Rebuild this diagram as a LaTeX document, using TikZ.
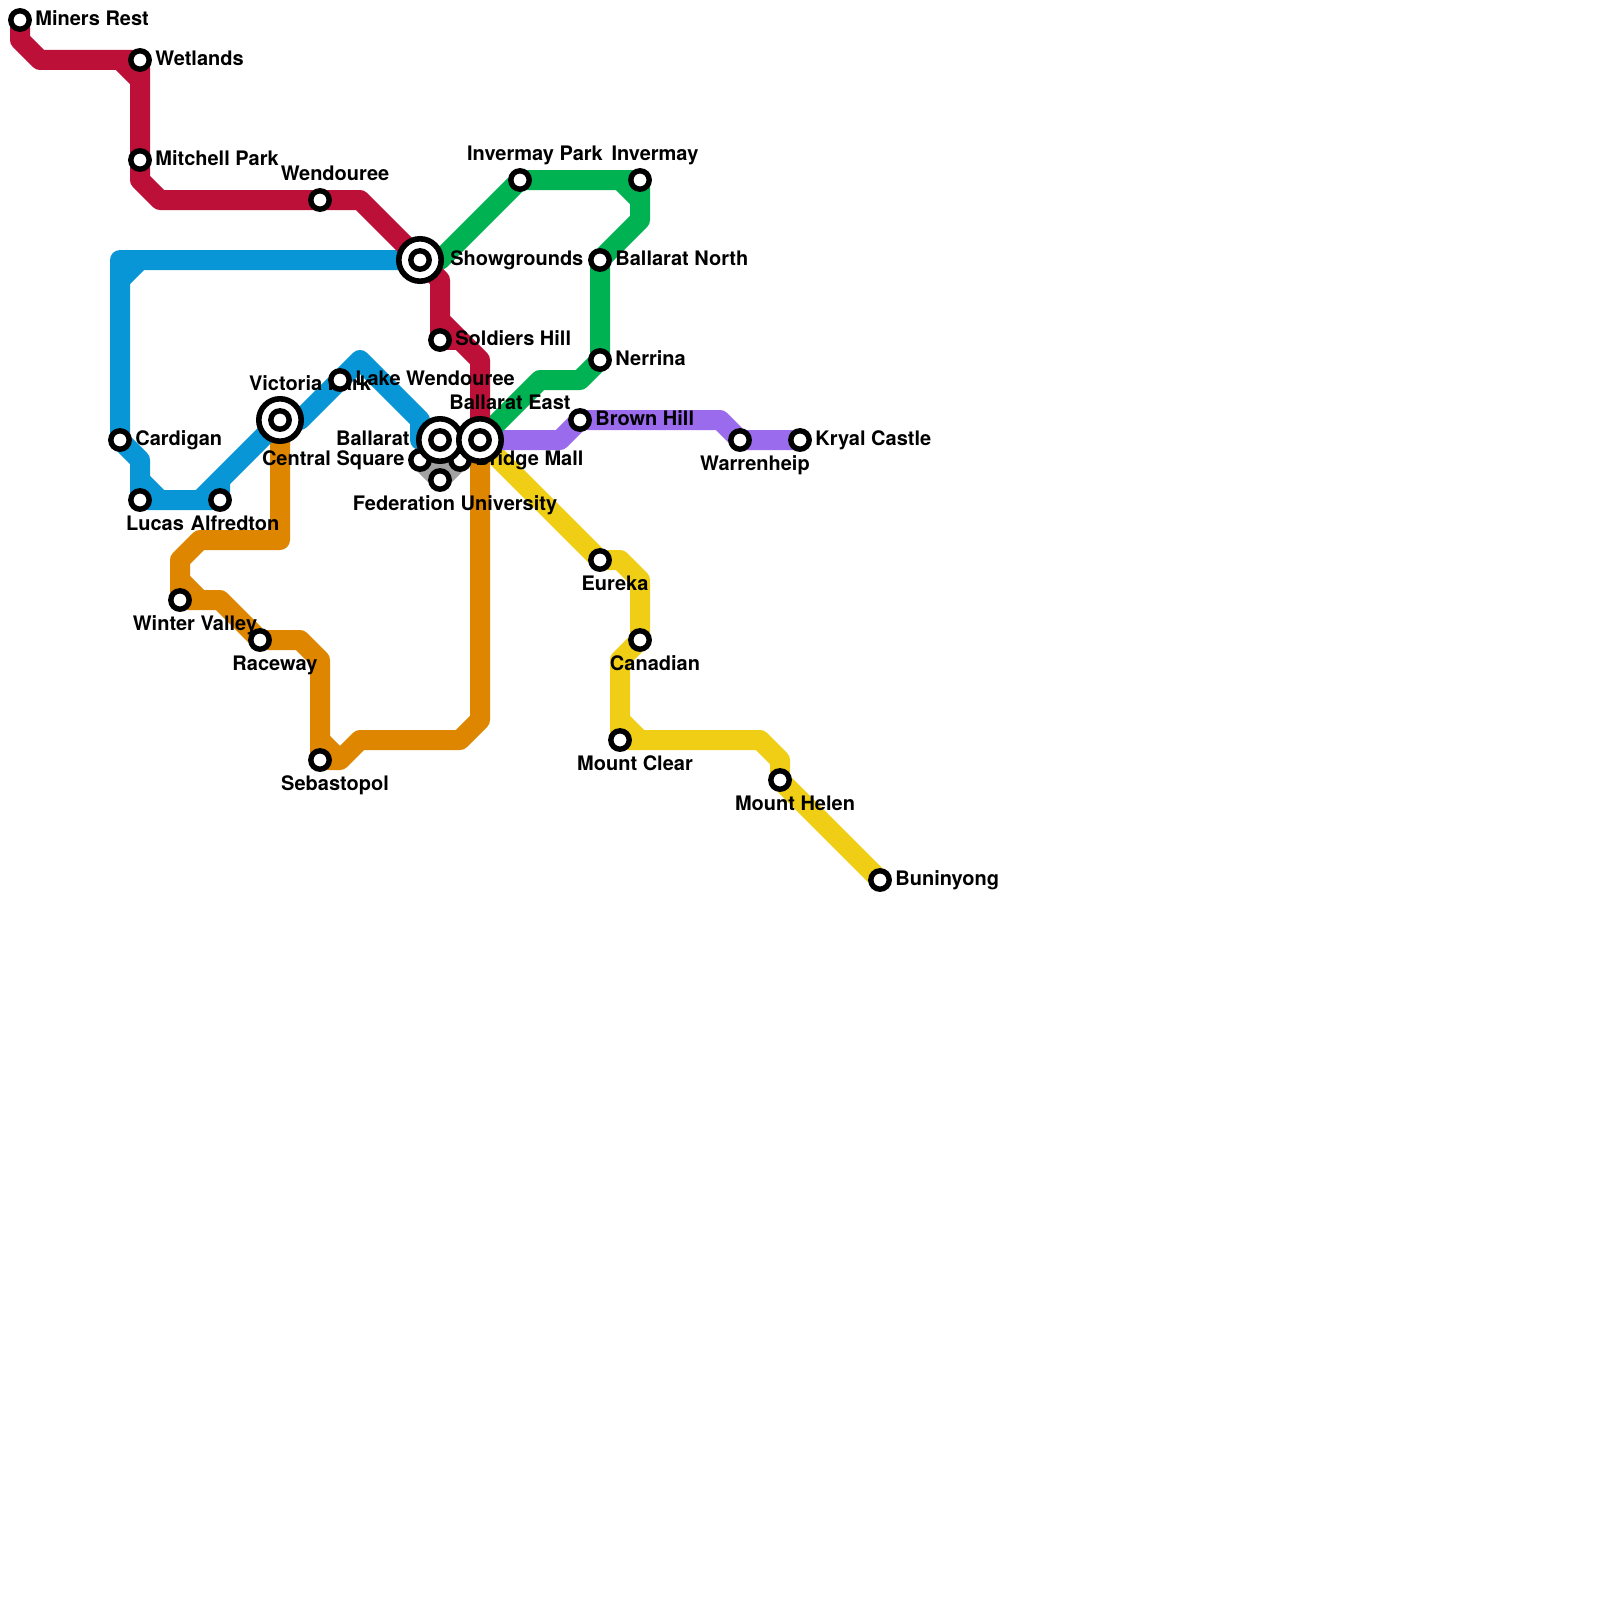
\documentclass[tikz,border=0pt]{standalone}
\usepackage{fontspec}
\setmainfont{TeX Gyre Heros}
\usetikzlibrary{positioning}
\pgfdeclarelayer{lines}
\pgfdeclarelayer{tags}
\pgfsetlayers{lines,tags,main}
\definecolor{redline}{HTML}{BD1038}
\definecolor{blueline}{HTML}{0896D7}
\definecolor{greenline}{HTML}{00B251}
\definecolor{orangeline}{HTML}{DF8600}
\definecolor{yellowline}{HTML}{F0CE15}
\definecolor{purpleline}{HTML}{9B6BEE}
\definecolor{greyline}{HTML}{A2A2A2}

\begin{document}
\begin{tikzpicture}[
  x=10pt, y=-10pt,
  stn/.style={circle, draw=black, fill=white, line width=2.7pt, minimum size=9.2pt, inner sep=0pt},
  hub/.style={circle, draw=black, fill=white, line width=2.8pt, minimum size=21.2pt, inner sep=0pt},
  route/.style={line width=10pt, line join=round},
  tag/.style={font=\bfseries\fontsize{10}{12}\selectfont, inner sep=0pt, text height=7.2pt, text depth=2pt},
  tagr/.style={tag, right=7.5pt of #1.center},
  tagl/.style={tag, left=7.5pt of #1.center},
  taga/.style={tag, above=7.5pt of #1.center, xshift=7.5pt},
  tagb/.style={tag, below=8pt of #1.center, xshift=7.5pt},
]
  \useasboundingbox (0,0) rectangle (80,80);

  % Stations
  \node[stn] (mr) at (1,1)   {};
  \node[stn] (wl) at (7,3)   {};
  \node[stn] (mp) at (7,8)   {};
  \node[stn] (wd) at (16,10) {};
  \node[stn] (sh) at (22,17) {};
  \node[stn] (lw) at (17,19) {};
  \node[stn] (cd) at (6,22)  {};
  \node[stn] (lc) at (7,25)  {};
  \node[stn] (af) at (11,25) {};
  \node[stn] (wv) at (9,30)  {};
  \node[stn] (rw) at (13,32) {};
  \node[stn] (sb) at (16,38) {};
  \node[stn] (ip) at (26,9)  {};
  \node[stn] (im) at (32,9)  {};
  \node[stn] (bn) at (30,13) {};
  \node[stn] (nr) at (30,18) {};
  \node[stn] (bh) at (29,21) {};
  \node[stn] (wh) at (37,22) {};
  \node[stn] (kc) at (40,22) {};
  \node[stn] (ek) at (30,28) {};
  \node[stn] (cn) at (32,32) {};
  \node[stn] (mc) at (31,37) {};
  \node[stn] (mh) at (39,39) {};
  \node[stn] (by) at (44,44) {};
  \node[stn] (cs) at (21,23) {};
  \node[stn] (bm) at (23,23) {};
  \node[stn] (fu) at (22,24) {};

  % Interchanges
  \node[hub] (sgo) at (21,13) {};
  \node[stn] (sg)  at (21,13) {};
  \node[hub] (vpo) at (14,21) {};
  \node[stn] (vp)  at (14,21) {};
  \node[hub] (bto) at (22,22) {};
  \node[stn] (bt)  at (22,22) {};
  \node[hub] (beo) at (24,22) {};
  \node[stn] (be)  at (24,22) {};

  \begin{pgfonlayer}{lines}
    % Routes
    \draw[route, greyline, fill=greyline] (cs.center) -- (fu.center) -- (bm.center) -- (bt.center) -- cycle;
    \draw[route, yellowline] (be.center) -- (ek.center) -- (31,28) -- (32,29) -- (cn.center) -- (31,33) -- (mc.center) -- (38,37) -- (39,38) -- (mh.center) -- (by.center);
    \draw[route, yellowline] (31,36) -- (32,37);
    \draw[route, purpleline] (be.center) -- (28,22) -- (bh.center) -- (36,21) -- (wh.center) -- (kc.center);
    \draw[route, greenline] (sg.center) -- (22,13) -- (ip.center) -- (im.center) -- (32,11) -- (bn.center) -- (nr.center) -- (29,19) -- (27,19) -- (be.center);
    \draw[route, greenline] (31,9) -- (32,10);
    \draw[route, orangeline] (vp.center) -- (14,27) -- (10,27) -- (9,28) -- (wv.center) -- (11,30) -- (13,32) -- (15,32) -- (16,33) -- (sb.center) -- (17,38) -- (18,37) -- (23,37) -- (24,36) -- (be.center);
    \draw[route, orangeline] (9,29) -- (10,30);
    \draw[route, orangeline] (16,37) -- (17,38);
    \draw[route, blueline] (sg.center) -- (6,13) -- (cd.center) -- (7,23) -- (lc.center) -- (af.center) -- (11,24);
    \draw[route, blueline] (6,14) -- (7,13);
    \draw[route, blueline] (7,24) -- (8,25);
    \draw[route, blueline] (10,25) -- (vp.center) -- (15,21) -- (lw.center) -- (18,18) -- (21,21) -- (21,22) -- (bt.center);
    \draw[route, redline] (mr.center) -- (1,2) -- (2,3) -- (wl.center) -- (mp.center) -- (7,9) -- (8,10) -- (wd.center) -- (18,10) -- (sg.center) -- (22,14) -- (22,16) -- (24,18) -- (be.center);
    \draw[route, redline] (6,3) -- (7,4);
    \draw[route, redline] (22,16) -- (sh.center) -- (23,17);
  \end{pgfonlayer}

  \begin{pgfonlayer}{tags}
    % Labels
    \node[tagr=mr] (mrt) {Miners Rest};
    \node[tagr=wl] (wlt) {Wetlands};
    \node[tagr=mp] (mpt) {Mitchell Park};
    \node[taga=wd] (wdt) {Wendouree};
    \node[tagr=sh] (sht) {Soldiers Hill};
    \node[tagr=lw] (lwt) {Lake Wendouree};
    \node[tagr=cd] (cdt) {Cardigan};
    \node[tagb=lc] (lct) {Lucas};
    \node[tagb=af] (aft) {Alfredton};
    \node[tagb=wv] (wvt) {Winter Valley};
    \node[tagb=rw] (rwt) {Raceway};
    \node[tagb=sb] (sbt) {Sebastopol};
    \node[taga=ip] (ipt) {Invermay Park};
    \node[taga=im] (imt) {Invermay};
    \node[tagr=bn] (bnt) {Ballarat North};
    \node[tagr=nr] (nrt) {Nerrina};
    \node[tagr=bh] (bht) {Brown Hill};
    \node[tagb=wh] (wht) {Warrenheip};
    \node[tagr=kc] (kct) {Kryal Castle};
    \node[tagb=ek] (ekt) {Eureka};
    \node[tagb=cn] (cnt) {Canadian};
    \node[tagb=mc] (mct) {Mount Clear};
    \node[tagb=mh] (mht) {Mount Helen};
    \node[tagr=by] (byt) {Buninyong};
    \node[tagl=cs] (cst) {Central Square};
    \node[tagr=bm] (bmt) {Bridge Mall};
    \node[tagb=fu] (fut) {Federation University};
    \node[tag, right=15pt of sg.center] (sgt) {Showgrounds};
    \node[tag, left=15pt of bt.center] (btt) {Ballarat};
    \node[tag, above=13pt of be.center, xshift=15pt] (bet) {Ballarat East};
    \node[tag, above=12.5pt of vp.center, xshift=15pt] (vpt) {Victoria Park};
  \end{pgfonlayer}
\end{tikzpicture}
\end{document}
